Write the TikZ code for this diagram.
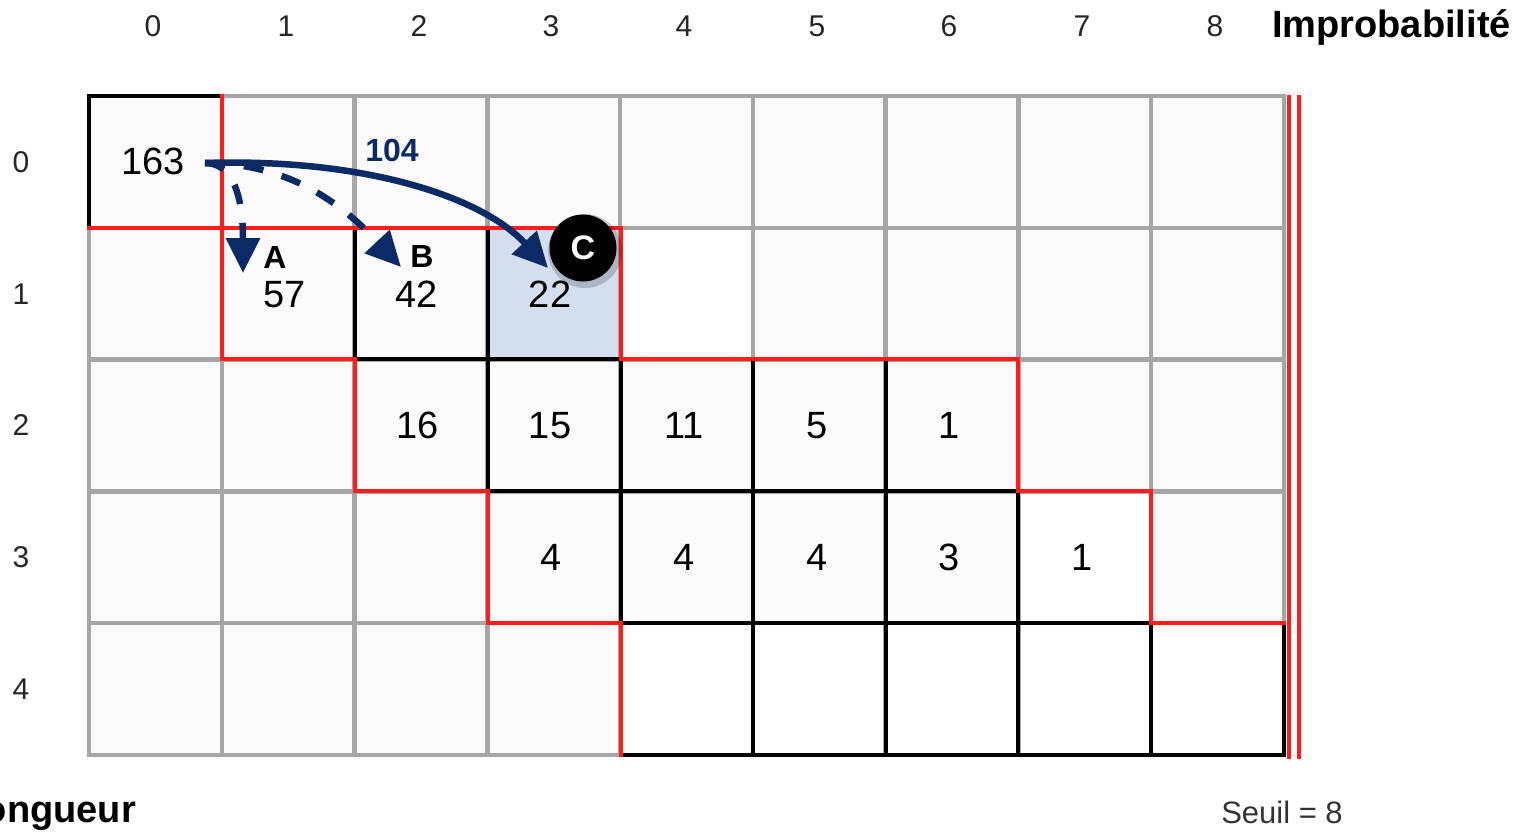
\documentclass[tikz,border=0pt]{standalone}
\usepackage{fontspec}
\setmainfont{Liberation Sans}
\usetikzlibrary{arrows.meta}
\definecolor{gridgray}{HTML}{A6A6A6}
\definecolor{cellbg}{HTML}{FAFAFA}
\definecolor{selblue}{HTML}{D3DFEE}
\definecolor{redline}{HTML}{FF1C1C}
\definecolor{navy}{HTML}{0C2A66}
\begin{document}
\begin{tikzpicture}[x=1pt,y=-1pt,
  gl/.style={draw=gridgray,line width=4.5pt,line cap=rect},
  bl/.style={draw=black,line width=4.5pt,line cap=rect},
  rl/.style={draw=redline,line width=4.5pt,line cap=rect},
  num/.style={font=\fontsize{38}{40}\selectfont,anchor=base,inner sep=0pt},
  axis/.style={font=\fontsize{30}{32}\selectfont,anchor=base,inner sep=0pt,text=black!85},
  title/.style={font=\fontsize{38}{40}\selectfont\bfseries,inner sep=0pt},
  tag/.style={font=\fontsize{32}{34}\selectfont\bfseries,anchor=base,inner sep=0pt},
  arr/.style={draw=navy,line width=6.5pt,-{Triangle[length=35pt,width=33pt]}},
  darr/.style={arr,dash pattern=on 20pt off 19pt},
]
\useasboundingbox (0,0) rectangle (1531,832);
% cell backgrounds
\fill[cellbg] (89,96) rectangle (1284,755);
\fill[white] (621,228) rectangle (753,359);
\fill[white] (1018,491) rectangle (1151,623);
\fill[white] (621,623) rectangle (1284,755);
\fill[selblue] (488,228) rectangle (621,359);
% gray grid
\foreach \x in {89,221.8,354.6,487.3,620.1,752.9,885.7,1018.5,1151.2,1284}
  \draw[gl] (\x,96) -- (\x,755);
\foreach \y in {96,227.8,359.6,491.4,623.2,755}
  \draw[gl] (89,\y) -- (1284,\y);
% black borders
\draw[bl] (89,228) -- (89,96) -- (222,96);
\draw[bl] (355,228) -- (355,359) -- (621,359);
\draw[bl] (488,228) -- (488,491) -- (1018,491);
\draw[bl] (621,359) -- (621,623) -- (1151,623);
\draw[bl] (753,359) -- (753,755);
\draw[bl] (886,359) -- (886,755);
\draw[bl] (1018,491) -- (1018,755);
\draw[bl] (1151,623) -- (1151,755);
\draw[bl] (1284,623) -- (1284,755) -- (621,755);
% red staircase
\draw[rl] (222,96) -- (222,359) -- (355,359) -- (355,491) -- (488,491) -- (488,623) -- (621,623) -- (621,755);
\draw[rl] (89,228) -- (621,228) -- (621,359) -- (1018,359) -- (1018,491) -- (1151,491) -- (1151,623) -- (1284,623);
\draw[redline,line width=4.5pt] (1289,95) -- (1289,759);
\draw[redline,line width=4.5pt] (1299,95) -- (1299,759);
% axis labels
\foreach \i/\x in {0/153,1/286,2/419,3/551,4/684,5/817,6/949,7/1082,8/1215}
  \node[axis] (col\i) at (\x,37) {\i};
\foreach \j/\y in {0/172,1/304,2/435,3/567,4/699}
  \node[axis] (row\j) at (21,\y) {\j};
\node[title,anchor=base west] (ximp) at (1272,38) {Improbabilité};
\node[title,anchor=base east] (ylong) at (136,822) {Longueur};
\node[font=\fontsize{31}{33}\selectfont,anchor=base,inner sep=0pt,text=black!80] (seuil) at (1282,823) {Seuil = 8};
% cell values
\node[num] (n163) at (153,175) {163};
\node[num] (n57) at (285,307) {57};
\node[num] (n42) at (417,307) {42};
\node[num] (n22) at (550,307) {22};
\node[num] (n16) at (418,438) {16};
\node[num] (n15) at (550,438) {15};
\node[num] (n11) at (684,438) {11};
\node[num] (n5) at (817,438) {5};
\node[num] (n1a) at (949,438) {1};
\node[num] (n4a) at (551,570) {4};
\node[num] (n4b) at (684,570) {4};
\node[num] (n4c) at (817,570) {4};
\node[num] (n3) at (949,570) {3};
\node[num] (n1b) at (1082,570) {1};
% tags
\node[tag] (tagA) at (275,268) {A};
\node[tag] (tagB) at (422,267) {B};
\node[tag,text=navy] (t104) at (392,161) {104};
% arrows
\coordinate (src) at (205,163);
\coordinate (tA) at (243,273);
\coordinate (tB) at (401,267);
\coordinate (tC) at (548,268);
\draw[darr] (src) .. controls (230,163) and (243,190) .. (tA);
\draw[darr] (src) .. controls (290,163) and (343,205) .. (tB);
\draw[arr] (src) .. controls (360,158) and (480,195) .. (tC);
% circle C
\fill[black,opacity=0.18] (585,251) circle (37);
\node[circle,fill=black,minimum size=67pt,inner sep=0pt,text=white,font=\fontsize{34}{36}\selectfont\bfseries] (cC) at (583,248) {C};
\end{tikzpicture}
\end{document}
